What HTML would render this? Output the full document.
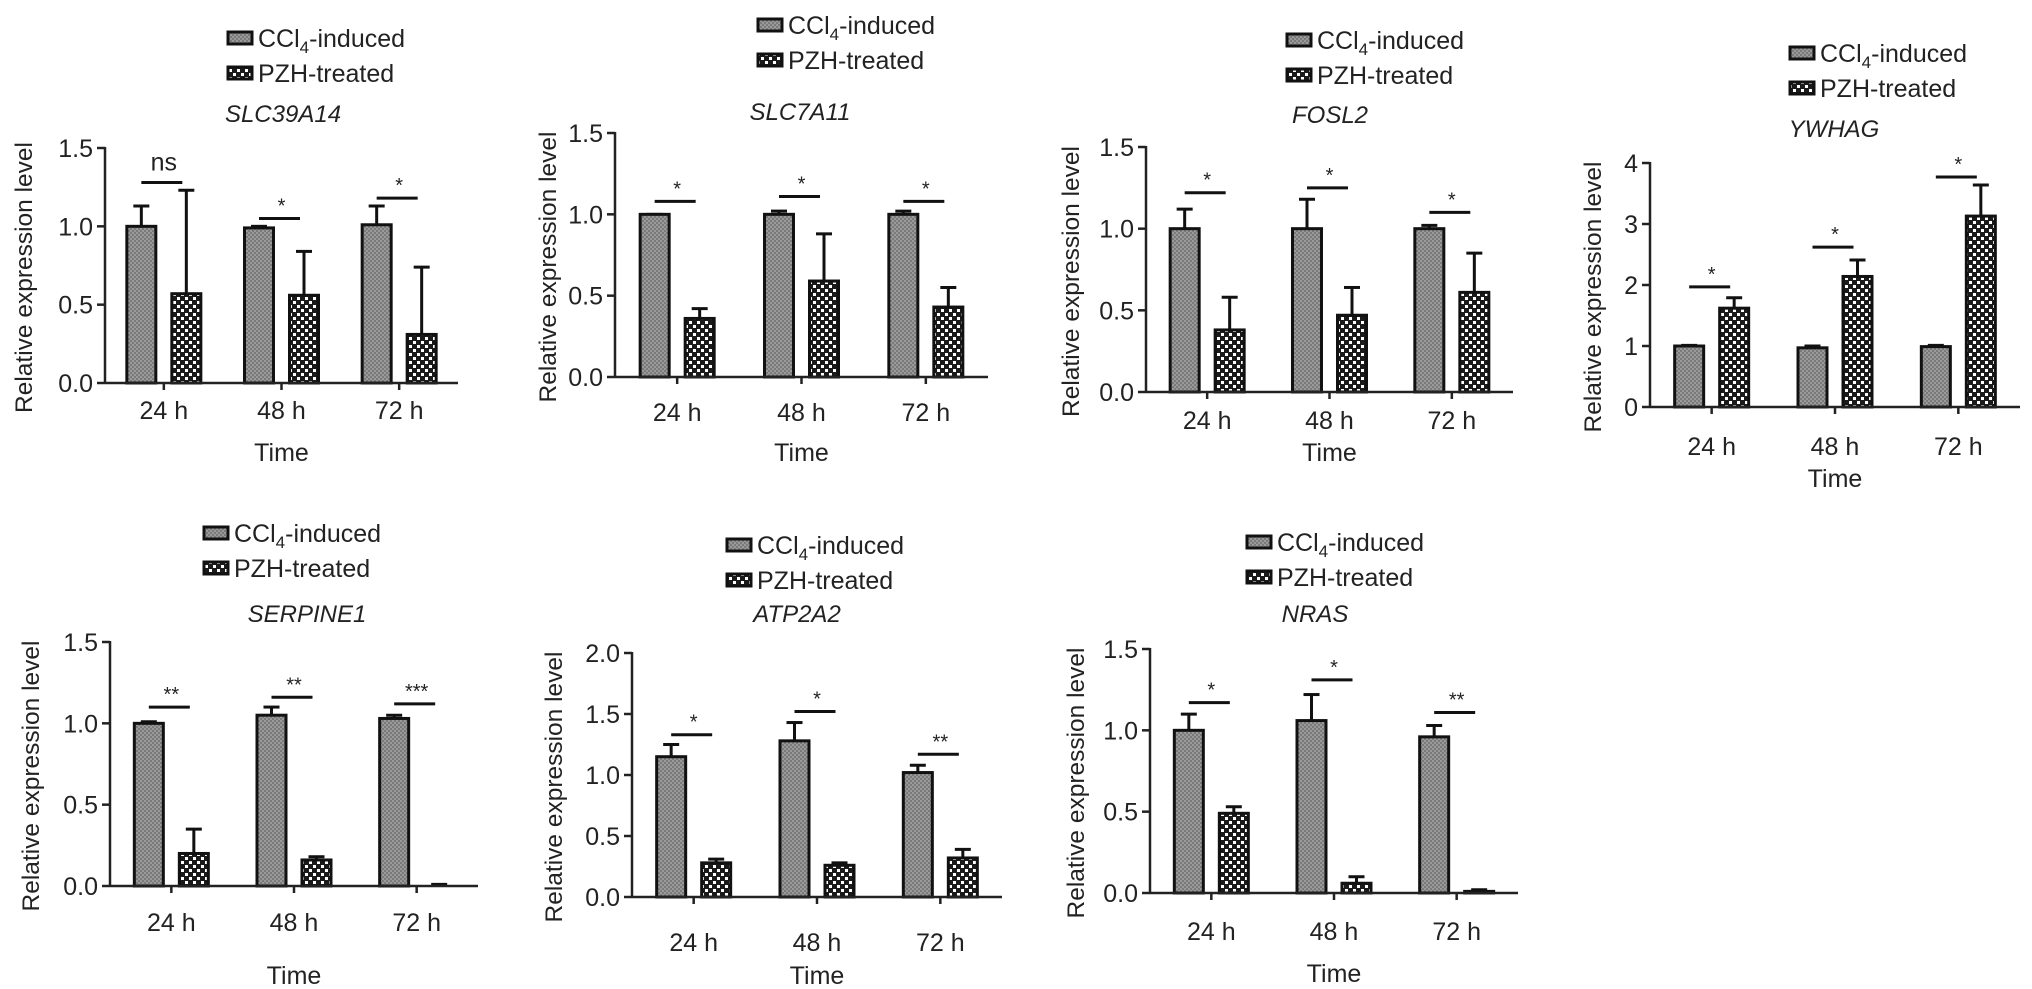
<!DOCTYPE html>
<html><head><meta charset="utf-8">
<style>
html,body{margin:0;padding:0;background:#fff;}
svg{display:block;font-family:"Liberation Sans",Arial,sans-serif;}
</style></head>
<body>
<svg id="fig" width="2032" height="989" viewBox="0 0 2032 989" xmlns="http://www.w3.org/2000/svg">
<defs>
<pattern id="pGray" width="4" height="4" patternUnits="userSpaceOnUse">
<rect width="4" height="4" fill="#7a7a7a"/><rect width="2" height="2" fill="#9a9a9a"/><rect x="2" y="2" width="2" height="2" fill="#9a9a9a"/>
</pattern>
<pattern id="pCheck" width="8" height="8" patternUnits="userSpaceOnUse">
<rect width="8" height="8" fill="#1a1a1a"/><rect x="1" y="1" width="3" height="3" fill="#fff"/><rect x="5" y="5" width="3" height="3" fill="#fff"/>
</pattern>
</defs>
</svg>
<script>
// ---- data ----
const categories = ["24 h","48 h","72 h"];
const seriesNames = ["CCl4-induced","PZH-treated"];

const slc39a14Ccl4 = [1.00,0.99,1.01];
const slc39a14Ccl4Err = [1.13,1.00,1.13];
const slc39a14Pzh = [0.57,0.56,0.31];
const slc39a14PzhErr = [1.23,0.84,0.74];
const slc39a14Sig = [1.28,1.05,1.18];
const slc39a14SigLabels = ["ns","*","*"];

const slc7a11Ccl4 = [1.00,1.00,1.00];
const slc7a11Ccl4Err = [1.00,1.02,1.02];
const slc7a11Pzh = [0.36,0.59,0.43];
const slc7a11PzhErr = [0.42,0.88,0.55];
const slc7a11Sig = [1.08,1.11,1.08];
const slc7a11SigLabels = ["*","*","*"];

const fosl2Ccl4 = [1.00,1.00,1.00];
const fosl2Ccl4Err = [1.12,1.18,1.02];
const fosl2Pzh = [0.38,0.47,0.61];
const fosl2PzhErr = [0.58,0.64,0.85];
const fosl2Sig = [1.22,1.25,1.10];
const fosl2SigLabels = ["*","*","*"];

const ywhagCcl4 = [1.00,0.97,0.99];
const ywhagCcl4Err = [1.01,1.00,1.01];
const ywhagPzh = [1.62,2.14,3.13];
const ywhagPzhErr = [1.79,2.41,3.64];
const ywhagSig = [1.97,2.62,3.77];
const ywhagSigLabels = ["*","*","*"];

const serpine1Ccl4 = [1.00,1.05,1.03];
const serpine1Ccl4Err = [1.01,1.10,1.05];
const serpine1Pzh = [0.20,0.16,0.00];
const serpine1PzhErr = [0.35,0.18,0.01];
const serpine1Sig = [1.10,1.16,1.12];
const serpine1SigLabels = ["**","**","***"];

const atp2a2Ccl4 = [1.15,1.28,1.02];
const atp2a2Ccl4Err = [1.25,1.43,1.08];
const atp2a2Pzh = [0.28,0.26,0.32];
const atp2a2PzhErr = [0.31,0.28,0.39];
const atp2a2Sig = [1.33,1.52,1.17];
const atp2a2SigLabels = ["*","*","**"];

const nrasCcl4 = [1.00,1.06,0.96];
const nrasCcl4Err = [1.10,1.22,1.03];
const nrasPzh = [0.49,0.06,0.01];
const nrasPzhErr = [0.53,0.10,0.02];
const nrasSig = [1.17,1.31,1.11];
const nrasSigLabels = ["*","*","**"];

const ticks15 = [0,0.5,1.0,1.5];
const ticks15Labels = ["0.0","0.5","1.0","1.5"];
const ticks4 = [0,1,2,3,4];
const ticks4Labels = ["0","1","2","3","4"];
const ticks20 = [0,0.5,1.0,1.5,2.0];
const ticks20Labels = ["0.0","0.5","1.0","1.5","2.0"];

// ---- layout (pixel geometry) ----
const panels = [
 {id:"slc39a14",title:"SLC39A14",c:slc39a14Ccl4,ce:slc39a14Ccl4Err,p:slc39a14Pzh,pe:slc39a14PzhErr,s:slc39a14Sig,sl:slc39a14SigLabels,t:ticks15,tl:ticks15Labels,
  ax:105,x1:458,yTop:148,y0:383,lx:228,ly:38,tx:283,ty:122,ylx:23,xly:410,tly:452},
 {id:"slc7a11",title:"SLC7A11",c:slc7a11Ccl4,ce:slc7a11Ccl4Err,p:slc7a11Pzh,pe:slc7a11PzhErr,s:slc7a11Sig,sl:slc7a11SigLabels,t:ticks15,tl:ticks15Labels,
  ax:615,x1:988,yTop:133,y0:377,lx:758,ly:25,tx:800,ty:120,ylx:547,xly:412,tly:452},
 {id:"fosl2",title:"FOSL2",c:fosl2Ccl4,ce:fosl2Ccl4Err,p:fosl2Pzh,pe:fosl2PzhErr,s:fosl2Sig,sl:fosl2SigLabels,t:ticks15,tl:ticks15Labels,
  ax:1146,x1:1513,yTop:147,y0:392,lx:1287,ly:40,tx:1330,ty:123,ylx:1070,xly:420,tly:452},
 {id:"ywhag",title:"YWHAG",c:ywhagCcl4,ce:ywhagCcl4Err,p:ywhagPzh,pe:ywhagPzhErr,s:ywhagSig,sl:ywhagSigLabels,t:ticks4,tl:ticks4Labels,
  ax:1650,x1:2020,yTop:163,y0:407,lx:1790,ly:53,tx:1834,ty:137,ylx:1592,xly:446,tly:478},
 {id:"serpine1",title:"SERPINE1",c:serpine1Ccl4,ce:serpine1Ccl4Err,p:serpine1Pzh,pe:serpine1PzhErr,s:serpine1Sig,sl:serpine1SigLabels,t:ticks15,tl:ticks15Labels,
  ax:110,x1:478,yTop:642,y0:886,lx:204,ly:533,tx:307,ty:622,ylx:30,xly:922,tly:975},
 {id:"atp2a2",title:"ATP2A2",c:atp2a2Ccl4,ce:atp2a2Ccl4Err,p:atp2a2Pzh,pe:atp2a2PzhErr,s:atp2a2Sig,sl:atp2a2SigLabels,t:ticks20,tl:ticks20Labels,
  ax:632,x1:1002,yTop:653,y0:897,lx:727,ly:545,tx:797,ty:622,ylx:553,xly:942,tly:975},
 {id:"nras",title:"NRAS",c:nrasCcl4,ce:nrasCcl4Err,p:nrasPzh,pe:nrasPzhErr,s:nrasSig,sl:nrasSigLabels,t:ticks15,tl:ticks15Labels,
  ax:1150,x1:1518,yTop:649,y0:893,lx:1247,ly:542,tx:1315,ty:622,ylx:1075,xly:931,tly:973}
];

const NS="http://www.w3.org/2000/svg";
const svg=document.getElementById("fig");
function mk(tag,attrs,parent){const e=document.createElementNS(NS,tag);for(const k in attrs)e.setAttribute(k,attrs[k]);(parent||svg).appendChild(e);return e;}

panels.forEach(P=>{
  const g=mk("g",{});
  
  
  const tMax=P.t[P.t.length-1];
  const y=v=>P.y0-(v/tMax)*(P.y0-P.yTop);
  const step=(P.x1-P.ax)/categories.length;
  const xc=i=>P.ax+(i+0.5)*step;
  const off=22.5, bw=29;

  // legend
  seriesNames.forEach((nm,k)=>{
    const ly=P.ly+k*35;
    const sw=mk("rect",{x:P.lx,y:ly-6,width:24,height:12,fill:k?"url(#pCheck)":"url(#pGray)",stroke:"#111","stroke-width":3},g);
    
    
    const t=mk("text",{x:P.lx+30,y:ly+9,"font-size":25,fill:"#222"},g);
    
    
    if(k===0){
      t.appendChild(document.createTextNode("CCl"));
      const s=mk("tspan",{"font-size":17,dy:6},t);s.textContent="4";
      const s2=mk("tspan",{dy:-6},t);s2.textContent="-induced";
    } else t.textContent="PZH-treated";
  });

  // title
  const ti=mk("text",{x:P.tx,y:P.ty,"font-size":24,"font-style":"italic","text-anchor":"middle",fill:"#222"},g);
  ti.textContent=P.title;
  
  

  // y axis
  const ya=mk("line",{x1:P.ax,y1:P.yTop-1,x2:P.ax,y2:P.y0,stroke:"#222","stroke-width":2.5},g);
  
  
  P.t.forEach((v,i)=>{
    mk("line",{x1:P.ax-8,y1:y(v),x2:P.ax,y2:y(v),stroke:"#222","stroke-width":2.5},g);
    const tl=mk("text",{x:P.ax-12,y:y(v)+9,"font-size":25,"text-anchor":"end",fill:"#222"},g);
    tl.textContent=P.tl[i];
    
    
  });
  const yl=mk("text",{x:0,y:0,"font-size":24.5,"text-anchor":"middle",fill:"#222",transform:`translate(${P.ylx+9},${(P.yTop+P.y0)/2+12}) rotate(-90)`},g);
  yl.textContent="Relative expression level";
  
  

  // bars
  categories.forEach((c,i)=>{
    [[P.c,P.ce,-off,"url(#pGray)","ccl4"],[P.p,P.pe,off,"url(#pCheck)","pzh"]].forEach(([vals,errs,o,fill,nm])=>{
      const cx=xc(i)+o;
      const top=y(errs[i]);
      mk("line",{x1:cx,y1:y(vals[i]),x2:cx,y2:top,stroke:"#111","stroke-width":3},g);
      mk("line",{x1:cx-8,y1:top,x2:cx+8,y2:top,stroke:"#111","stroke-width":3},g);
      const h=Math.max(0,P.y0-y(vals[i]));
      const b=mk("rect",{x:cx-bw/2,y:y(vals[i]),width:bw,height:h,fill:fill,stroke:"#111","stroke-width":3},g);
      
      
    });
    // significance
    const sy=y(P.s[i]);
    mk("line",{x1:xc(i)-off,y1:sy,x2:xc(i)+off-4,y2:sy,stroke:"#111","stroke-width":3},g);
    const st=mk("text",{x:xc(i),y:P.sl[i]==="ns"?sy-12:sy-6,"font-size":P.sl[i]==="ns"?25:20,"text-anchor":"middle",fill:"#222"},g);
    st.textContent=P.sl[i];
    
    
  });

  // x axis
  const xa=mk("line",{x1:P.ax,y1:P.y0,x2:P.x1,y2:P.y0,stroke:"#222","stroke-width":2.5},g);
  
  
  categories.forEach((c,i)=>{
    mk("line",{x1:xc(i),y1:P.y0,x2:xc(i),y2:P.y0+7,stroke:"#222","stroke-width":2.5},g);
    const xl=mk("text",{x:xc(i),y:P.xly+9,"font-size":25,"text-anchor":"middle",fill:"#222"},g);
    xl.textContent=c;
    
    
  });
  const xt=mk("text",{x:xc(1),y:P.tly+9,"font-size":25,"text-anchor":"middle",fill:"#222"},g);
  xt.textContent="Time";
  
  
});
</script>
</body></html>
